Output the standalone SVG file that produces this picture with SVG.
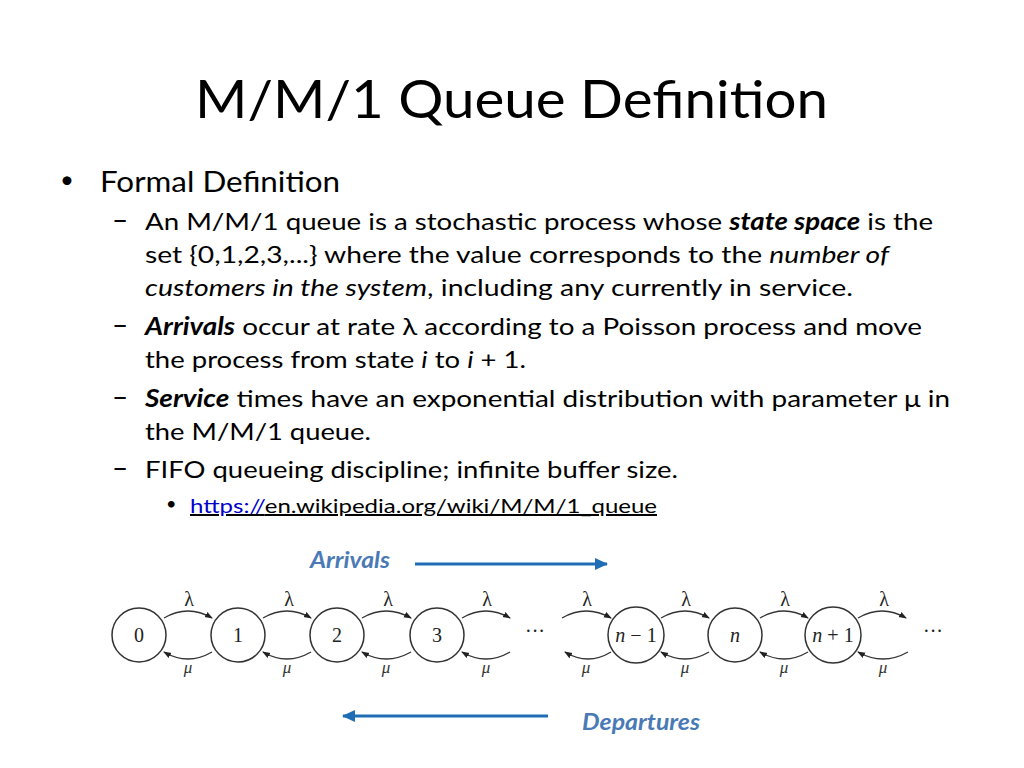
<svg xmlns="http://www.w3.org/2000/svg" width="1024" height="768" viewBox="0 0 1024 768">
<style>
.t{font-family:Lato,"Liberation Sans",sans-serif;fill:#000}
.s{font-size:24px}
.st circle{fill:#fff;stroke:#333;stroke-width:1.5}
.lb{font-family:"Liberation Serif",serif;font-size:20px;text-anchor:middle;fill:#222}
.gl{font-family:"Liberation Serif",serif;font-size:17px;font-style:italic;text-anchor:middle;fill:#333}
.e{fill:none;stroke:#333;stroke-width:1.3}
.big{stroke:#1f6eb5;stroke-width:3;fill:none}
.bl{font-family:Lato,"Liberation Sans",sans-serif;font-size:22px;font-weight:bold;font-style:italic;fill:#4a7ab5}
</style>
<defs>
<marker id="a" markerWidth="8" markerHeight="8" refX="7" refY="4" orient="auto" markerUnits="userSpaceOnUse"><path d="M0,1 L8,4 L0,7 Z" fill="#222"/></marker>
<marker id="b" markerWidth="14" markerHeight="14" refX="12" refY="7" orient="auto" markerUnits="userSpaceOnUse"><path d="M0,1 L13,7 L0,13 Z" fill="#1f6eb5"/></marker>
</defs>
<rect width="1024" height="768" fill="#fff"/>
<text class="t" x="195" y="118" font-size="52" textLength="633" lengthAdjust="spacingAndGlyphs">M/M/1 Queue Definition</text>
<text class="t" x="60" y="188" font-size="24">•</text>
<text class="t" x="100" y="192" font-size="28" textLength="240" lengthAdjust="spacingAndGlyphs">Formal Definition</text>
<g class="t s">
<text x="112" y="230" font-size="28">–</text>
<text x="145" y="230" textLength="788" lengthAdjust="spacingAndGlyphs">An M/M/1 queue is a stochastic process whose <tspan font-weight="bold" font-style="italic">state space</tspan> is the</text>
<text x="145" y="263" textLength="744" lengthAdjust="spacingAndGlyphs">set {0,1,2,3,...} where the value corresponds to the <tspan font-style="italic">number of</tspan></text>
<text x="145" y="296" textLength="708" lengthAdjust="spacingAndGlyphs"><tspan font-style="italic">customers in the system</tspan>, including any currently in service.</text>
<text x="112" y="335" font-size="28">–</text>
<text x="145" y="335" textLength="777" lengthAdjust="spacingAndGlyphs"><tspan font-weight="bold" font-style="italic">Arrivals</tspan> occur at rate λ according to a Poisson process and move</text>
<text x="145" y="368" textLength="381" lengthAdjust="spacingAndGlyphs">the process from state <tspan font-style="italic">i</tspan> to <tspan font-style="italic">i</tspan> + 1.</text>
<text x="112" y="407" font-size="28">–</text>
<text x="145" y="407" textLength="805" lengthAdjust="spacingAndGlyphs"><tspan font-weight="bold" font-style="italic">Service</tspan> times have an exponential distribution with parameter μ in</text>
<text x="145" y="440" textLength="226" lengthAdjust="spacingAndGlyphs">the M/M/1 queue.</text>
<text x="112" y="478" font-size="28">–</text>
<text x="145" y="478" textLength="533" lengthAdjust="spacingAndGlyphs">FIFO queueing discipline; infinite buffer size.</text>
</g>
<text class="t" x="166" y="510" font-size="18">•</text>
<text class="t" x="190" y="513" font-size="20" text-decoration="underline" textLength="467" lengthAdjust="spacingAndGlyphs"><tspan fill="#0000cc">https://</tspan>en.wikipedia.org/wiki/M/M/1_queue</text>

<g id="arrivals"><text class="bl" x="310" y="568" textLength="80" lengthAdjust="spacingAndGlyphs">Arrivals</text></g>
<g id="departures"><text class="bl" x="582" y="730" textLength="118" lengthAdjust="spacingAndGlyphs">Departures</text></g>

<g id="s0" class="st"><circle cx="139" cy="635" r="27"/><text class="lb" x="139" y="642">0</text></g>
<g id="s1" class="st"><circle cx="238" cy="635" r="27"/><text class="lb" x="238" y="642">1</text></g>
<g id="s2" class="st"><circle cx="337" cy="635" r="27"/><text class="lb" x="337" y="642">2</text></g>
<g id="s3" class="st"><circle cx="437" cy="635" r="27"/><text class="lb" x="437" y="642">3</text></g>
<g id="sn1" class="st"><circle cx="636" cy="635" r="28"/><text class="lb" x="636" y="642"><tspan font-style="italic">n</tspan> − 1</text></g>
<g id="sn" class="st"><circle cx="735" cy="635" r="27"/><text class="lb" x="735" y="642" font-style="italic">n</text></g>
<g id="sn2" class="st"><circle cx="833" cy="635" r="28"/><text class="lb" x="833" y="642"><tspan font-style="italic">n</tspan> + 1</text></g>
<text class="lb" x="535" y="638">···</text>
<text class="lb" x="933" y="638">···</text>

<g id="connectors">
<path class="big" d="M415,564 H607" marker-end="url(#b)"/>
<path class="big" d="M548,716 H343" marker-end="url(#b)"/>
<g class="e">
<path d="M164,618 Q188,604 212,618" marker-end="url(#a)"/>
<path d="M263,618 Q287,604 311,618" marker-end="url(#a)"/>
<path d="M362,618 Q386,604 411,618" marker-end="url(#a)"/>
<path d="M462,618 Q486,604 510,618" marker-end="url(#a)"/>
<path d="M562,618 Q586,604 611,618" marker-end="url(#a)"/>
<path d="M661,618 Q685,604 709,618" marker-end="url(#a)"/>
<path d="M760,618 Q784,604 808,618" marker-end="url(#a)"/>
<path d="M858,618 Q882,604 906,618" marker-end="url(#a)"/>
<path d="M212,652 Q188,666 164,652" marker-end="url(#a)"/>
<path d="M311,652 Q287,666 263,652" marker-end="url(#a)"/>
<path d="M411,652 Q386,666 362,652" marker-end="url(#a)"/>
<path d="M510,652 Q486,666 462,652" marker-end="url(#a)"/>
<path d="M611,652 Q588,666 565,652" marker-end="url(#a)"/>
<path d="M709,652 Q685,666 661,652" marker-end="url(#a)"/>
<path d="M808,652 Q784,666 760,652" marker-end="url(#a)"/>
<path d="M908,652 Q883,666 858,652" marker-end="url(#a)"/>
</g>
<g class="lb" font-size="18">
<text x="189" y="606">λ</text><text x="289" y="606">λ</text><text x="388" y="606">λ</text><text x="487" y="606">λ</text>
<text x="587" y="606">λ</text><text x="686" y="606">λ</text><text x="785" y="606">λ</text><text x="884" y="606">λ</text>
</g>
<g class="gl">
<text x="188" y="673">μ</text><text x="287" y="673">μ</text><text x="386" y="673">μ</text><text x="486" y="673">μ</text>
<text x="586" y="673">μ</text><text x="685" y="673">μ</text><text x="784" y="673">μ</text><text x="883" y="673">μ</text>
</g>
</g>
</svg>
